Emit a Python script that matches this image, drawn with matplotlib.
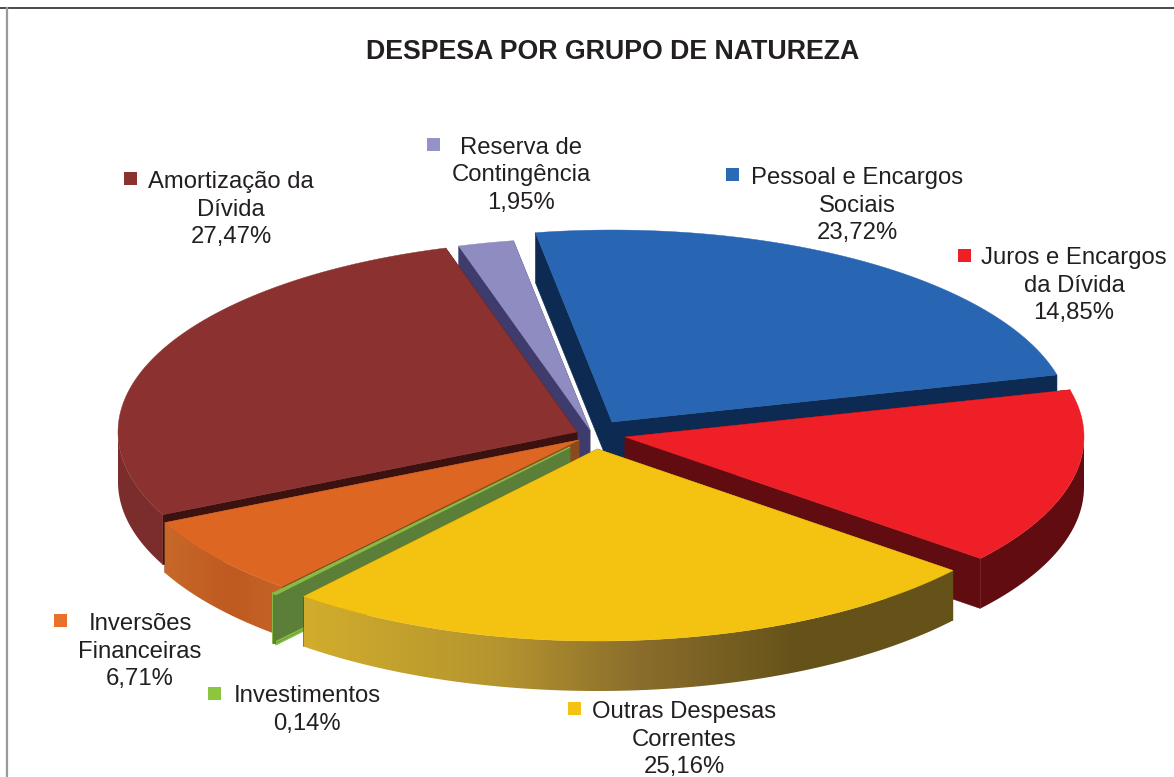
import numpy as np
import matplotlib
matplotlib.use("Agg")
import matplotlib.pyplot as plt
from matplotlib.patches import Rectangle, Polygon
from matplotlib.colors import to_rgb

# ---- data ----
categories = ["Pessoal e Encargos\nSociais", "Juros e Encargos\nda Dívida",
              "Outras Despesas\nCorrentes", "Investimentos",
              "Inversões\nFinanceiras", "Amortização da\nDívida",
              "Reserva de\nContingência"]
values = [23.72, 14.85, 25.16, 0.14, 6.71, 27.47, 1.95]
title = "DESPESA POR GRUPO DE NATUREZA"

# ---- style ----
top_colors = ["#2865b2", "#ee1f26", "#f4c311", "#86bb44", "#dd6722", "#8b3230", "#8f8cc2"]
face_colors = ["#0d2b52", "#610c10", "#655219", "#5b7f38", "#8a4a1c", "#3c1210", "#3f3c6d"]
rim_stops = [[("#0d2b52", 0), ("#0d2b52", 1)],
             [("#610c10", 0), ("#610c10", 1)],
             [("#d2ad2c", 300), ("#b4942f", 500), ("#8a6d2c", 640), ("#655219", 800), ("#655219", 960)],
             [("#5b7f38", 0), ("#5b7f38", 1)],
             [("#c8682a", 165), ("#bf5a20", 230), ("#c56528", 285)],
             [("#7c2d2c", 118), ("#7a2e2c", 165)],
             [("#3f3c6d", 0), ("#3f3c6d", 1)]]
# exploded apex of each slice, in pixels
apexes = [(612, 422), (625, 437), (597.5, 449), (570, 447), (579, 440), (577, 432), (590, 430)]
draw_order = [6, 0, 5, 1, 4, 3, 2]
label_centres = [(857, 205.5), (1074, 285.5), (684, 739.5), (307, 710),
                 (140, 651.5), (231, 209.5), (521, 175.5)]
key_centres = [(732, 174), (964, 255), (574, 708), (214, 693), (60, 620), (130, 178), (433, 144)]
key_colors = ["#2a69b4", "#ee1f26", "#f4c311", "#8cc63f", "#e9722a", "#8b3230", "#9492c6"]
RX, RY, DEPTH = 459.0, 192.0, 50.0
START = -9.6
FONT = "Liberation Sans"

fig = plt.figure(figsize=(11.74, 7.77), dpi=100)
ax = fig.add_axes([0, 0, 1, 1])


def pt(apex, deg, drop=0.0):
    t = np.radians(deg)
    return apex[0] + RX * np.sin(t), apex[1] - RY * np.cos(t) + drop


def rim_gradient(stops, x0, x1):
    xs = [s[1] for s in stops]
    cs = np.array([to_rgb(s[0]) for s in stops])
    grid = np.linspace(x0, x1, 200)
    return np.dstack([np.interp(grid, xs, cs[:, i]) for i in range(3)])


edges = START + np.concatenate([[0], np.cumsum(values)]) * 360.0 / sum(values)

for i in draw_order:
    a0, a1 = edges[i], edges[i + 1]
    apex = apexes[i]
    is_green = categories[i] == "Investimentos"
    # radial side faces
    for a in (a0, a1):
        p = pt(apex, a)
        xs = [apex[0], p[0], p[0], apex[0]]
        ys = [apex[1], p[1], p[1] + DEPTH, apex[1] + DEPTH]
        ax.fill(xs, ys, color=face_colors[i], lw=0.4, zorder=1)
        if is_green:
            ax.plot(xs[1:], ys[1:], color=top_colors[i], lw=1.3, zorder=1)
    # outer rim, front half only, filled with a horizontal gradient
    lo, hi = max(a0, 90.0), min(a1, 270.0)
    if hi > lo:
        grid = np.linspace(lo, hi, 300)
        rx, ry = pt(apex, grid)
        poly = Polygon(np.c_[np.r_[rx, rx[::-1]], np.r_[ry, ry[::-1] + DEPTH]],
                       closed=True, transform=ax.transData, facecolor="none", edgecolor="none")
        x0, x1 = rx.min(), rx.max()
        y0, y1 = ry.min(), ry.max() + DEPTH
        im = ax.imshow(rim_gradient(rim_stops[i], x0, x1), extent=(x0, x1, y1, y0),
                       aspect="auto", interpolation="bilinear", zorder=1)
        im.set_clip_path(poly)
    # top surface
    arc = np.linspace(a0, a1, max(3, int((a1 - a0) * 3)))
    px, py = pt(apex, arc)
    ax.fill(np.r_[apex[0], px], np.r_[apex[1], py], color=top_colors[i],
            lw=1.0 if is_green else 0.3, zorder=1)

ax.set_xlim(0, 1174)
ax.set_ylim(777, 0)
ax.axis("off")

ax.text(613, 52, title, ha="center", va="center", fontsize=19.25, fontweight="bold",
        family=FONT, color="#231f20")

for name, val, c, k, kc in zip(categories, values, label_centres, key_centres, key_colors):
    txt = name + "\n" + f"{val:.2f}".replace(".", ",") + "%"
    ax.text(c[0], c[1], txt, ha="center", va="center", multialignment="center",
            fontsize=17.2, family=FONT, color="#231f20", linespacing=1.32)
    ax.add_patch(Rectangle((k[0] - 6.5, k[1] - 6.5), 13, 13, facecolor=kc, edgecolor="none", zorder=3))

ax.plot([0, 1174], [8, 8], color="#2b2b2b", lw=1.2, zorder=4)
ax.plot([6.8, 6.8], [8, 777], color="#999999", lw=1.6, zorder=4)

fig.savefig("out.png", dpi=100, facecolor="white")
